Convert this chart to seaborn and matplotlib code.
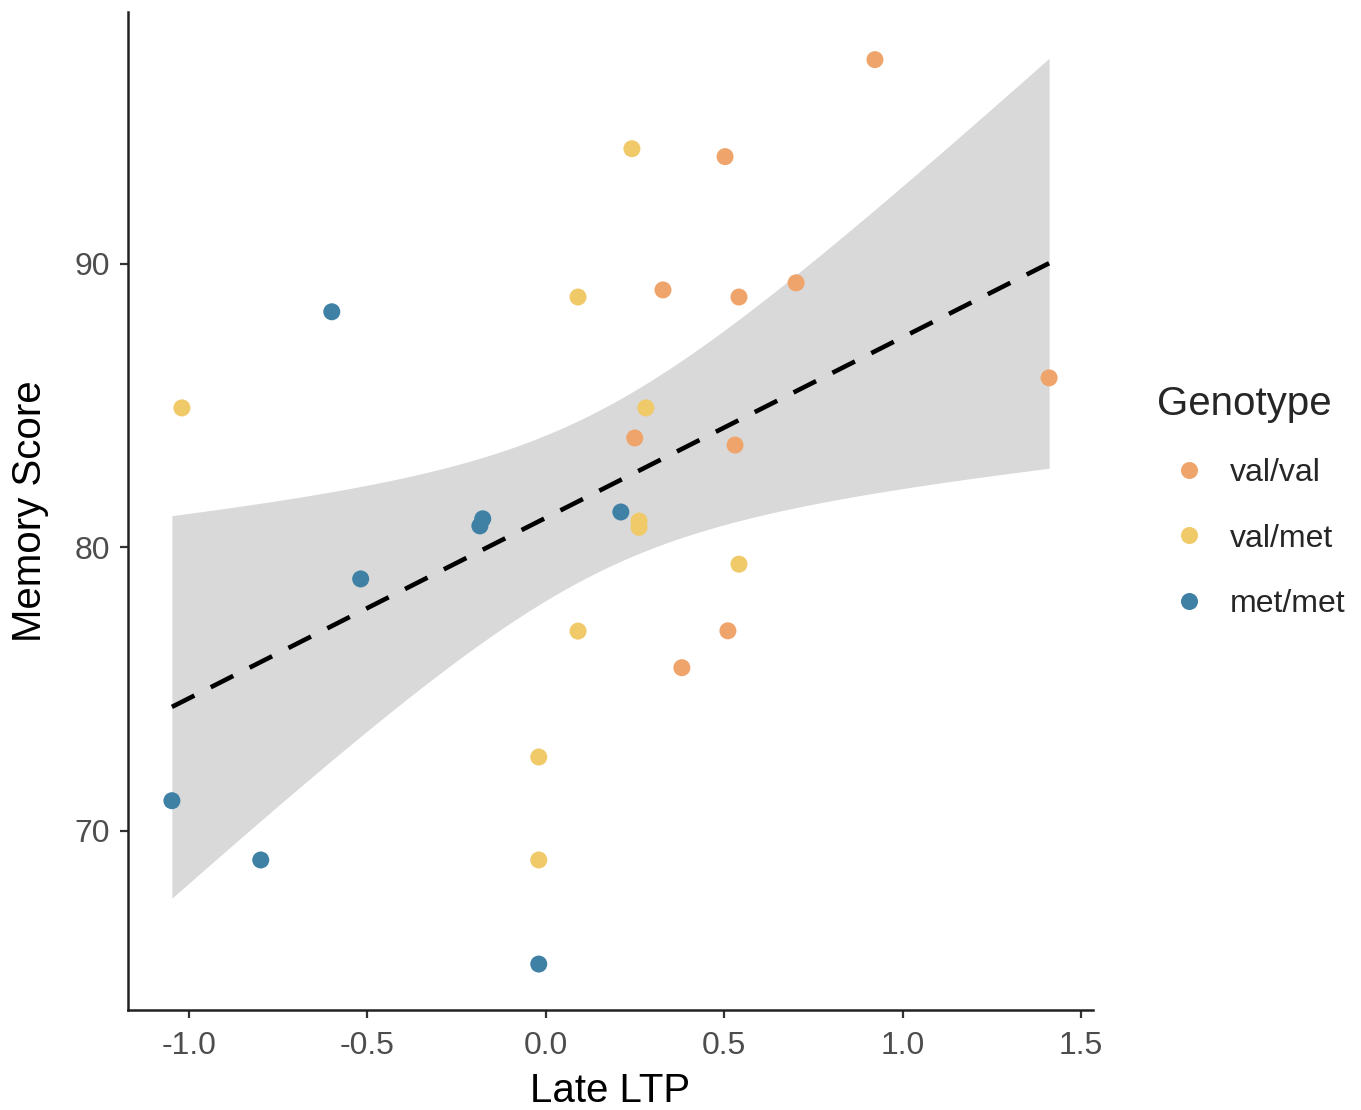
import numpy as np
import pandas as pd
import matplotlib
matplotlib.use("Agg")
import matplotlib.pyplot as plt
import seaborn as sns

# ---- data ----
genotype_order = ["val/val", "val/met", "met/met"]
palette_colors = ["#EFA46B", "#F0C968", "#3F80A5"]

valval_ltp = [0.922, 0.502, 0.328, 0.541, 0.701, 1.410, 0.249, 0.530, 0.510, 0.381]
valval_mem = [97.19, 93.77, 89.07, 88.82, 89.32, 85.97, 83.85, 83.60, 77.05, 75.75]

valmet_ltp = [0.241, 0.090, -1.020, 0.280, 0.261, 0.261, 0.541, 0.090, -0.020, -0.020]
valmet_mem = [94.05, 88.82, 84.91, 84.91, 80.92, 80.70, 79.40, 77.04, 72.60, 68.97]

metmet_ltp = [-0.600, -0.177, -0.185, 0.210, -0.519, -1.048, -0.799, -0.020]
metmet_mem = [88.30, 81.00, 80.75, 81.24, 78.88, 71.06, 68.97, 65.30]

x_ticks = [-1.0, -0.5, 0.0, 0.5, 1.0, 1.5]
x_ticklabels = ["-1.0", "-0.5", "0.0", "0.5", "1.0", "1.5"]
y_ticks = [70, 80, 90]
y_ticklabels = ["70", "80", "90"]

df = pd.DataFrame({
    "Late LTP": valval_ltp + valmet_ltp + metmet_ltp,
    "Memory Score": valval_mem + valmet_mem + metmet_mem,
    "Genotype": ["val/val"] * len(valval_ltp) + ["val/met"] * len(valmet_ltp)
                + ["met/met"] * len(metmet_ltp),
})

sns.set_theme(style="white")
plt.rcParams["font.family"] = ["Liberation Sans", "DejaVu Sans"]

fig = plt.figure(figsize=(13.61, 11.10), dpi=100)
ax = fig.add_axes([128 / 1361, 1 - 1010 / 1110, (1093 - 128) / 1361, (1010 - 12) / 1110])

# analytic 95% confidence band of the linear fit (as in ggplot's geom_smooth)
xv = df["Late LTP"].to_numpy()
yv = df["Memory Score"].to_numpy()
n = len(xv)
slope, intercept = np.polyfit(xv, yv, 1)
resid = yv - (intercept + slope * xv)
s_err = np.sqrt(np.sum(resid ** 2) / (n - 2))
t_crit = 2.0555  # t(0.975, df=26)
grid = np.linspace(xv.min(), xv.max(), 200)
se_fit = s_err * np.sqrt(1 / n + (grid - xv.mean()) ** 2 / np.sum((xv - xv.mean()) ** 2))
fit = intercept + slope * grid
ax.fill_between(grid, fit - t_crit * se_fit, fit + t_crit * se_fit,
                color="#D9D9D9", linewidth=0, zorder=1)

sns.regplot(data=df, x="Late LTP", y="Memory Score", scatter=False, ci=None,
            ax=ax, line_kws=dict(color="black", lw=3.3, ls=(0, (5.5, 4.0)), zorder=2))

sns.scatterplot(data=df, x="Late LTP", y="Memory Score", hue="Genotype",
                hue_order=genotype_order, palette=palette_colors,
                s=150, linewidth=0, ax=ax, legend=True, zorder=3)

ax.set_xlim(-1.171, 1.533)
ax.set_ylim(63.68, 98.87)
ax.set_xticks(x_ticks)
ax.set_xticklabels(x_ticklabels)
ax.set_yticks(y_ticks)
ax.set_yticklabels(y_ticklabels)

for side in ["top", "right"]:
    ax.spines[side].set_visible(False)
for side in ["left", "bottom"]:
    ax.spines[side].set_color("#222222")
    ax.spines[side].set_linewidth(1.8)

ax.tick_params(axis="both", length=6, width=1.6, color="#333333",
               labelsize=23, labelcolor="#4D4D4D", bottom=True, left=True)
ax.tick_params(axis="x", pad=9)
ax.tick_params(axis="y", pad=7)
ax.set_xlabel("Late LTP", fontsize=29, color="black", labelpad=8)
ax.set_ylabel("Memory Score", fontsize=29, color="black", labelpad=18)
ax.grid(False)

handles, labels = ax.get_legend_handles_labels()
ax.get_legend().remove()
leg = fig.legend(handles, labels, title="Genotype", loc="center left",
                 bbox_to_anchor=(1144 / 1361, 1 - 502 / 1110), frameon=False,
                 fontsize=23, title_fontsize=29, labelspacing=1.1,
                 handletextpad=0.3, markerscale=1.0, borderaxespad=0)
leg._legend_box.align = "left"

fig.savefig("out.png", dpi=100)
